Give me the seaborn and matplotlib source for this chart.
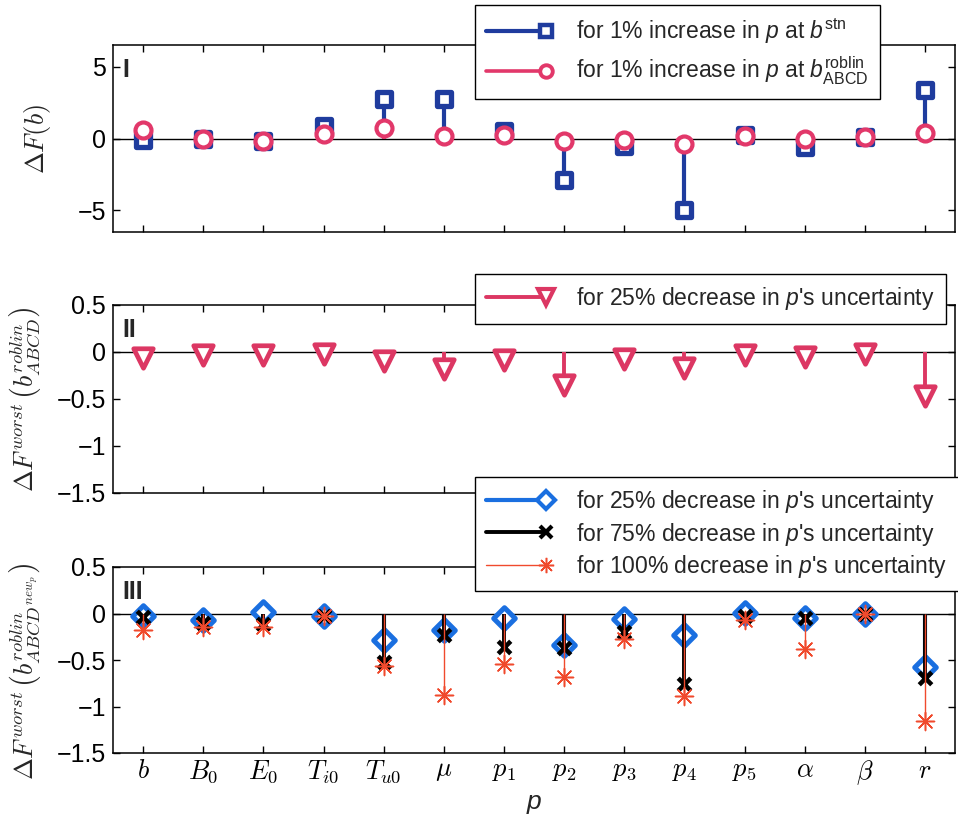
import numpy as np
import pandas as pd
import matplotlib
matplotlib.use("Agg")
import matplotlib.pyplot as plt
import seaborn as sns
from matplotlib.lines import Line2D
from matplotlib.legend_handler import HandlerBase
from matplotlib.font_manager import FontProperties

# ---------------------------------------------------------------- data
params = [r'$b$', r'$B_0$', r'$E_0$', r'$T_{i0}$', r'$T_{u0}$', r'$\mu$',
          r'$p_1$', r'$p_2$', r'$p_3$', r'$p_4$', r'$p_5$', r'$\alpha$',
          r'$\beta$', r'$r$']

# Panel I: change in F(b) for a 1% increase in each parameter
dF_stn = [-0.1, -0.05, -0.2, 0.9, 2.75, 2.75, 0.55, -2.9, -0.55, -4.95,
          0.25, -0.6, 0.1, 3.35]
dF_roblin = [0.6, 0.0, -0.2, 0.3, 0.7, 0.2, 0.25, -0.2, -0.1, -0.35,
             0.15, -0.05, 0.1, 0.4]

# Panel II: worst-case change at b_ABCD^roblin, 25% less uncertainty
dFw_25 = [-0.06, -0.03, -0.03, -0.02, -0.1, -0.18, -0.09, -0.35, -0.07,
          -0.17, -0.03, -0.05, -0.02, -0.47]

# Panel III: worst-case change at the re-optimised design
dFn_25 = [-0.03, -0.07, 0.02, -0.03, -0.28, -0.18, -0.05, -0.34, -0.06,
          -0.23, 0.01, -0.05, 0.0, -0.57]
dFn_75 = [-0.04, -0.1, -0.11, -0.03, -0.52, -0.23, -0.36, -0.37, -0.2,
          -0.76, -0.03, -0.05, 0.0, -0.69]
dFn_100 = [-0.18, -0.14, -0.14, -0.03, -0.56, -0.88, -0.54, -0.68, -0.27,
           -0.89, -0.07, -0.38, 0.0, -1.16]

yticks_I = [-5, 0, 5]
yticklabels_I = ['\u22125', '0', '5']
yticks_II = [-1.5, -1, -0.5, 0, 0.5]
yticklabels_II = ['\u22121.5', '\u22121', '\u22120.5', '0', '0.5']

labels_I = [r'for 1% increase in $p$ at $b^{\mathrm{stn}}$',
            r'for 1% increase in $p$ at $b^{\mathrm{roblin}}_{\mathrm{ABCD}}$']
labels_II = [r"for 25% decrease in $p$'s uncertainty"]
labels_III = [r"for 25% decrease in $p$'s uncertainty",
              r"for 75% decrease in $p$'s uncertainty",
              r"for 100% decrease in $p$'s uncertainty"]

ylabel_I = r'$\Delta F(b)$'
ylabel_II = r'$\Delta F^{worst}\,\left(b^{roblin}_{ABCD}\right)$'
ylabel_III = r'$\Delta F^{worst}\,\left(b^{roblin}_{ABCD^{new_p}}\right)$'

# ---------------------------------------------------------------- style
sns.set_style("ticks")
plt.rcParams['font.family'] = ['Liberation Sans', 'DejaVu Sans']
plt.rcParams['mathtext.fontset'] = 'cm'
plt.rcParams['mathtext.rm'] = 'Liberation Sans'
plt.rcParams['mathtext.it'] = 'Liberation Sans:italic'
plt.rcParams['mathtext.bf'] = 'Liberation Sans:bold'
plt.rcParams['axes.linewidth'] = 1.1

NAVY = '#1f3c9e'
PINK = '#e2386a'
PINK2 = '#dc3763'
BLUE = '#1a6fe0'
RED = '#f04a2d'

pos = np.arange(1, len(params) + 1)
df = pd.DataFrame({'pos': pos, 'stn': dF_stn, 'roblin': dF_roblin,
                   'w25': dFw_25, 'n25': dFn_25, 'n75': dFn_75,
                   'n100': dFn_100})

W, H = 958, 831
fig = plt.figure(figsize=(W / 100, H / 100), dpi=100)


def add_panel(top, bottom):
    return fig.add_axes([113 / W, 1 - bottom / H, (955 - 113) / W,
                         (bottom - top) / H])


ax1 = add_panel(45, 232)
ax2 = add_panel(305, 493)
ax3 = add_panel(567, 753)


def stems(ax, col, color, lw, z):
    ax.vlines(df['pos'], 0, df[col], colors=color, linewidth=lw, zorder=z)


def marks(ax, col, marker, size, face, edge, lw, z):
    sns.scatterplot(data=df, x='pos', y=col, ax=ax, marker=marker, s=size ** 2,
                    color=face, edgecolor=edge, linewidth=lw, zorder=z,
                    legend=False)


# Panel I
stems(ax1, 'stn', NAVY, 3.0, 3)
marks(ax1, 'stn', 's', 10, 'white', NAVY, 3.8, 4)
stems(ax1, 'roblin', PINK, 2.6, 5)
marks(ax1, 'roblin', 'o', 11.5, 'white', PINK, 3.0, 6)

# Panel II
stems(ax2, 'w25', PINK2, 2.8, 3)
marks(ax2, 'w25', 'v', 14, 'white', PINK2, 3.4, 4)

# Panel III
stems(ax3, 'n25', BLUE, 3.0, 3)
marks(ax3, 'n25', 'D', 11, 'white', BLUE, 3.6, 4)
stems(ax3, 'n75', 'black', 2.8, 5)
sns.scatterplot(data=df, x='pos', y='n75', ax=ax3, marker='x', s=9 ** 2,
                color='black', linewidth=3.3, zorder=6, legend=False)
stems(ax3, 'n100', RED, 1.0, 7)
sns.scatterplot(data=df, x='pos', y='n100', ax=ax3, marker=(8, 2, 0),
                s=13 ** 2, color=RED, linewidth=1.1, zorder=8, legend=False)

# ---------------------------------------------------------------- axes
for ax, yt, ytl, ylim in [(ax1, yticks_I, yticklabels_I, (-6.5, 6.5)),
                          (ax2, yticks_II, yticklabels_II, (-1.5, 0.5)),
                          (ax3, yticks_II, yticklabels_II, (-1.5, 0.5))]:
    ax.axhline(0, color='black', linewidth=1.0, zorder=2)
    ax.set_xlim(0.5, len(params) + 0.5)
    ax.set_ylim(*ylim)
    ax.set_yticks(yt)
    ax.set_yticklabels(ytl)
    ax.set_xticks(pos)
    ax.tick_params(direction='in', top=True, right=True, length=5, width=1.0,
                   labelsize=18, pad=5, colors='black')
    ax.set_xlabel('')
    ax.set_ylabel('')
    for s in ax.spines.values():
        s.set_visible(True)
        s.set_color('black')

ax1.set_xticklabels([])
ax2.set_xticklabels([])
ax3.set_xticklabels(params, fontsize=19)
ax3.tick_params(axis='x', pad=4)
ax3.set_xlabel('p', fontsize=19, style='italic', labelpad=2)

ax1.set_ylabel(ylabel_I, fontsize=19)
ax2.set_ylabel(ylabel_II, fontsize=19)
ax3.set_ylabel(ylabel_III, fontsize=19)
ax1.yaxis.set_label_coords(-0.071, 0.5)
ax2.yaxis.set_label_coords(-0.083, 0.5)
ax3.yaxis.set_label_coords(-0.083, 0.44)

for ax, tag in [(ax1, 'I'), (ax2, 'II'), (ax3, 'III')]:
    ax.text(0.011, 0.93, tag, transform=ax.transAxes, fontsize=18,
            fontweight='bold', va='top', ha='left', zorder=10)


# ---------------------------------------------------------------- legends
class StemHandler(HandlerBase):
    """Legend key: a line with the marker at its right end."""

    def create_artists(self, legend, orig_handle, xdescent, ydescent,
                       width, height, fontsize, trans):
        y = (height - ydescent) / 2
        x0, x1 = -xdescent, -xdescent + width
        line = Line2D([x0, x1], [y, y], color=orig_handle.get_color(),
                      linewidth=orig_handle.get_linewidth())
        mark = Line2D([x1], [y], linestyle='none',
                      marker=orig_handle.get_marker(),
                      markersize=orig_handle.get_markersize(),
                      markerfacecolor=orig_handle.get_markerfacecolor(),
                      markeredgecolor=orig_handle.get_markeredgecolor(),
                      markeredgewidth=orig_handle.get_markeredgewidth())
        line.set_transform(trans)
        mark.set_transform(trans)
        return [line, mark]


def key(color, lw, marker, ms, mew, face='white'):
    return Line2D([], [], color=color, linewidth=lw, marker=marker,
                  markersize=ms, markerfacecolor=face, markeredgecolor=color,
                  markeredgewidth=mew)


legend_font = FontProperties(family='Liberation Sans', size=16.5,
                             math_fontfamily='custom')


def add_legend(ax, handles, labels, top_px, spacing):
    leg = ax.legend(handles, labels, loc='upper left',
                    bbox_to_anchor=(475 / W, 1 - top_px / H),
                    bbox_transform=fig.transFigure, borderaxespad=0,
                    frameon=True, fancybox=False, framealpha=1,
                    edgecolor='black', facecolor='white', prop=legend_font,
                    handlelength=2.6, handletextpad=1.3, borderpad=0.5,
                    labelspacing=spacing,
                    handler_map={Line2D: StemHandler()})
    leg.get_frame().set_linewidth(1.0)
    leg.set_zorder(20)
    return leg


add_legend(ax1, [key(NAVY, 3.0, 's', 8, 3.2), key(PINK, 2.6, 'o', 9, 2.8)],
           labels_I, 5, 0.4)
add_legend(ax2, [key(PINK2, 2.8, 'v', 12, 3.0)], labels_II, 274, 0.4)
add_legend(ax3, [key(BLUE, 3.0, 'D', 9.5, 3.0),
                 key('black', 2.8, 'x', 8, 3.0, face='black'),
                 key(RED, 1.0, (8, 2, 0), 11, 1.1, face=RED)],
           labels_III, 477, 0.22)

fig.savefig('out.png', dpi=100)
